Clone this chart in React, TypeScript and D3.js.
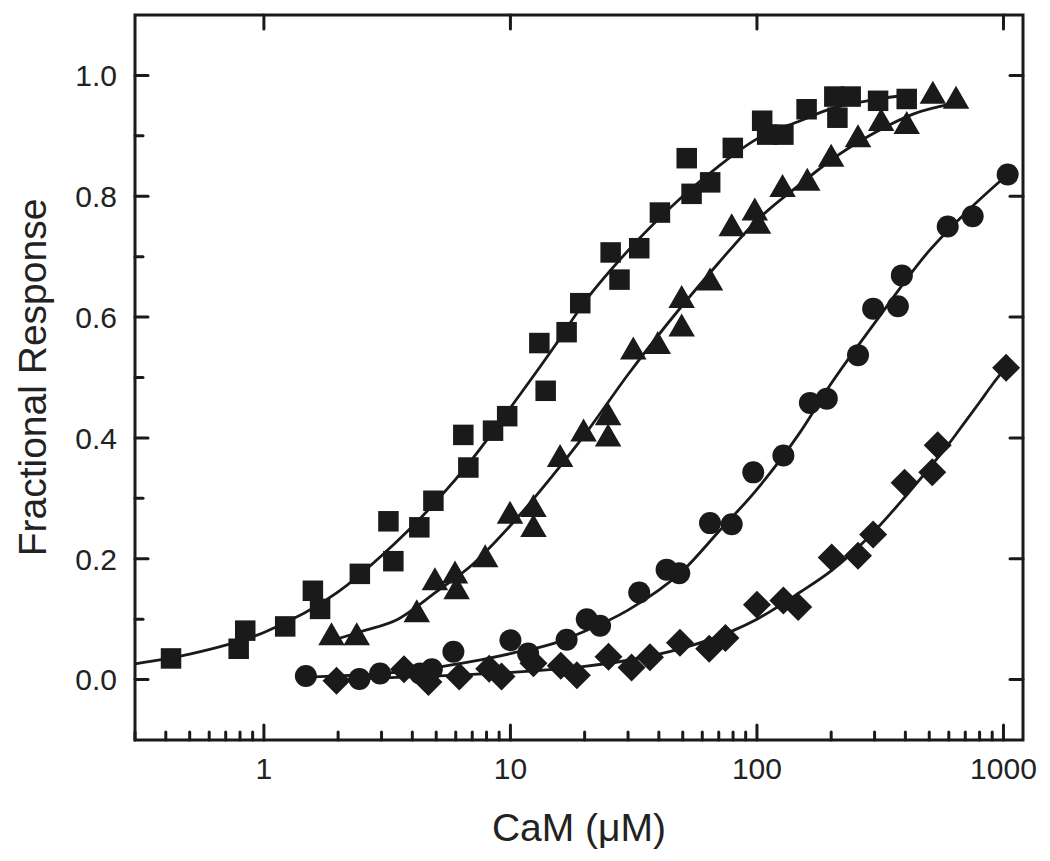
import React from "react";
import * as d3 from "d3";

// ---------- data ----------
const squareX = [0.42, 0.79, 0.84, 1.22, 1.58, 1.69, 2.45, 3.2, 3.35, 4.27, 4.87, 6.44, 6.75, 8.5, 9.7, 13.1, 13.9, 16.9, 19.2, 25.5, 27.7, 33.3, 40.4, 51.9, 54.3, 64.6, 79.8, 105, 110, 128, 159, 206, 240, 212, 310, 405];
const squareY = [0.035, 0.051, 0.081, 0.088, 0.147, 0.117, 0.175, 0.262, 0.196, 0.252, 0.296, 0.405, 0.351, 0.412, 0.436, 0.557, 0.478, 0.575, 0.623, 0.707, 0.662, 0.714, 0.773, 0.863, 0.804, 0.823, 0.88, 0.925, 0.902, 0.902, 0.944, 0.965, 0.965, 0.93, 0.958, 0.961];

const triangleX = [1.88, 2.38, 4.17, 4.94, 5.96, 6.05, 7.9, 9.96, 12.4, 12.4, 15.9, 19.8, 24.9, 24.9, 31.5, 39.6, 49.5, 49.5, 64.5, 79, 98, 101, 127, 160, 200, 257, 319, 405, 517, 642];
const triangleY = [0.076, 0.076, 0.114, 0.167, 0.178, 0.152, 0.205, 0.277, 0.288, 0.255, 0.371, 0.413, 0.44, 0.405, 0.549, 0.558, 0.587, 0.634, 0.663, 0.753, 0.779, 0.757, 0.818, 0.828, 0.868, 0.9, 0.927, 0.922, 0.972, 0.964];

const circleX = [1.48, 2.44, 2.96, 4.3, 4.8, 5.87, 10.0, 11.8, 16.9, 20.4, 23.1, 33.3, 43, 48.4, 64.5, 79, 96.6, 128, 164, 192, 257, 296, 373, 387, 594, 750, 1040];
const circleY = [0.006, 0.001, 0.01, 0.01, 0.017, 0.046, 0.065, 0.043, 0.066, 0.1, 0.089, 0.144, 0.182, 0.176, 0.259, 0.257, 0.343, 0.371, 0.458, 0.465, 0.537, 0.614, 0.618, 0.669, 0.75, 0.767, 0.836];

const diamondX = [1.97, 3.7, 4.65, 6.2, 8.2, 9.2, 12.4, 16.0, 18.6, 25, 31, 36.8, 48.7, 64, 74.5, 100, 128, 147, 201, 257, 296, 397, 514, 541, 1025];
const diamondY = [-0.002, 0.017, -0.004, 0.005, 0.018, 0.005, 0.027, 0.023, 0.007, 0.038, 0.02, 0.037, 0.061, 0.051, 0.069, 0.124, 0.131, 0.12, 0.202, 0.205, 0.24, 0.326, 0.343, 0.388, 0.516];

// fitted curves
const squareFitX = [0.3, 0.5, 1, 2, 3, 5, 7, 10, 15, 20, 30, 50, 70, 100, 150, 200, 300, 420];
const squareFitY = [0.026, 0.042, 0.078, 0.145, 0.205, 0.295, 0.365, 0.45, 0.55, 0.625, 0.71, 0.8, 0.85, 0.895, 0.925, 0.945, 0.96, 0.968];

const triangleFitX = [1.9, 2.5, 3.5, 5, 7, 10, 15, 20, 30, 50, 70, 100, 150, 200, 300, 430, 640];
const triangleFitY = [0.065, 0.08, 0.1, 0.145, 0.19, 0.255, 0.34, 0.405, 0.505, 0.62, 0.69, 0.76, 0.82, 0.86, 0.905, 0.936, 0.954];

const circleFitX = [1.5, 2, 3, 5, 7, 10, 15, 20, 30, 50, 70, 100, 150, 200, 300, 500, 700, 1040];
const circleFitY = [0.004, 0.006, 0.01, 0.02, 0.03, 0.043, 0.06, 0.08, 0.115, 0.18, 0.245, 0.315, 0.41, 0.49, 0.59, 0.71, 0.772, 0.836];

const diamondFitX = [2, 5, 10, 20, 30, 50, 80, 100, 150, 200, 300, 400, 500, 600, 700, 800, 900, 1025];
const diamondFitY = [0.0, 0.006, 0.012, 0.022, 0.032, 0.052, 0.081, 0.1, 0.145, 0.18, 0.246, 0.303, 0.35, 0.39, 0.427, 0.459, 0.488, 0.517];

const xMajorTicks = [1, 10, 100, 1000];
const xMajorLabels = ["1", "10", "100", "1000"];
const yMajorTicks = [0.0, 0.2, 0.4, 0.6, 0.8, 1.0];
const yMajorLabels = ["0.0", "0.2", "0.4", "0.6", "0.8", "1.0"];
const yMinorTicks = [0.1, 0.3, 0.5, 0.7, 0.9];

const xTitle = "CaM (\u03BCM)";
const yTitle = "Fractional Response";

// ---------- layout ----------
const W = 1050;
const H = 861;
const L = 135, R = 1023, T = 15, B = 740;
const INK = "#1a1a1a";
const FONT = "'Liberation Sans', Arial, Helvetica, sans-serif";

export default function App() {
  const x = d3.scaleLog().domain([0.3, 1200]).range([L, R]);
  const y = d3.scaleLinear().domain([-0.1, 1.1]).range([B, T]);

  const xMinor: number[] = [];
  for (const dec of [0.1, 1, 10, 100]) {
    for (let k = 2; k <= 9; k++) {
      const v = dec * k;
      if (v >= 0.3 && v <= 1200 && !xMajorTicks.includes(v)) xMinor.push(v);
    }
  }

  const line = d3
    .line<[number, number]>()
    .x((d) => x(d[0]))
    .y((d) => y(d[1]))
    .curve(d3.curveMonotoneX);

  const zip = (a: number[], b: number[]) => a.map((v, i) => [v, b[i]] as [number, number]);

  const fits = [
    zip(squareFitX, squareFitY),
    zip(triangleFitX, triangleFitY),
    zip(circleFitX, circleFitY),
    zip(diamondFitX, diamondFitY),
  ];

  const sq = 20.5;
  const triW = 26.5, triH = 23;
  const circR = 11;
  const dia = 14;

  return (
    <svg
      width={W}
      height={H}
      style={{ position: "absolute", left: 0, top: 0, background: "#fff" }}
      fontFamily={FONT}
    >
      <rect x={0} y={0} width={W} height={H} fill="#fff" />

      {/* fit curves */}
      {fits.map((f, i) => (
        <path key={i} d={line(f) || ""} fill="none" stroke={INK} strokeWidth={2.8} />
      ))}

      {/* markers */}
      {squareX.map((v, i) => (
        <rect key={"s" + i} x={x(v) - sq / 2} y={y(squareY[i]) - sq / 2} width={sq} height={sq} fill={INK} />
      ))}
      {triangleX.map((v, i) => {
        const cx = x(v), cy = y(triangleY[i]);
        return (
          <path
            key={"t" + i}
            d={`M${cx},${cy - triH / 2}L${cx + triW / 2},${cy + triH / 2}L${cx - triW / 2},${cy + triH / 2}Z`}
            fill={INK}
          />
        );
      })}
      {circleX.map((v, i) => (
        <circle key={"c" + i} cx={x(v)} cy={y(circleY[i])} r={circR} fill={INK} />
      ))}
      {diamondX.map((v, i) => {
        const cx = x(v), cy = y(diamondY[i]);
        return (
          <path
            key={"d" + i}
            d={`M${cx},${cy - dia}L${cx + dia},${cy}L${cx},${cy + dia}L${cx - dia},${cy}Z`}
            fill={INK}
          />
        );
      })}

      {/* ticks */}
      <g stroke={INK} strokeWidth={3} strokeLinecap="round">
        {xMajorTicks.map((v) => (
          <g key={"xm" + v}>
            <line x1={x(v)} x2={x(v)} y1={B} y2={B - 15} />
            <line x1={x(v)} x2={x(v)} y1={T} y2={T + 14} />
          </g>
        ))}
        {xMinor.map((v) => (
          <line key={"xn" + v} x1={x(v)} x2={x(v)} y1={B} y2={B - 8} />
        ))}
        {yMajorTicks.map((v) => (
          <g key={"ym" + v}>
            <line x1={L} x2={L + 13} y1={y(v)} y2={y(v)} />
            <line x1={R} x2={R - 13} y1={y(v)} y2={y(v)} />
          </g>
        ))}
        {yMinorTicks.map((v) => (
          <line key={"yn" + v} x1={L} x2={L + 8} y1={y(v)} y2={y(v)} />
        ))}
      </g>

      {/* frame */}
      <rect x={L} y={T} width={R - L} height={B - T} fill="none" stroke={INK} strokeWidth={3} />

      {/* tick labels */}
      <g fill="#222" fontSize={30}>
        {xMajorTicks.map((v, i) => (
          <text key={"xl" + v} x={x(v)} y={779} textAnchor="middle">
            {xMajorLabels[i]}
          </text>
        ))}
        {yMajorTicks.map((v, i) => (
          <text key={"yl" + v} x={117} y={y(v)} dy="0.36em" textAnchor="end">
            {yMajorLabels[i]}
          </text>
        ))}
      </g>

      {/* axis titles */}
      <text x={(L + R) / 2} y={841} textAnchor="middle" fontSize={39} fill="#222">
        {xTitle}
      </text>
      <text
        transform={`translate(46,${(T + B) / 2}) rotate(-90)`}
        textAnchor="middle"
        fontSize={39}
        fill="#222"
      >
        {yTitle}
      </text>
    </svg>
  );
}
